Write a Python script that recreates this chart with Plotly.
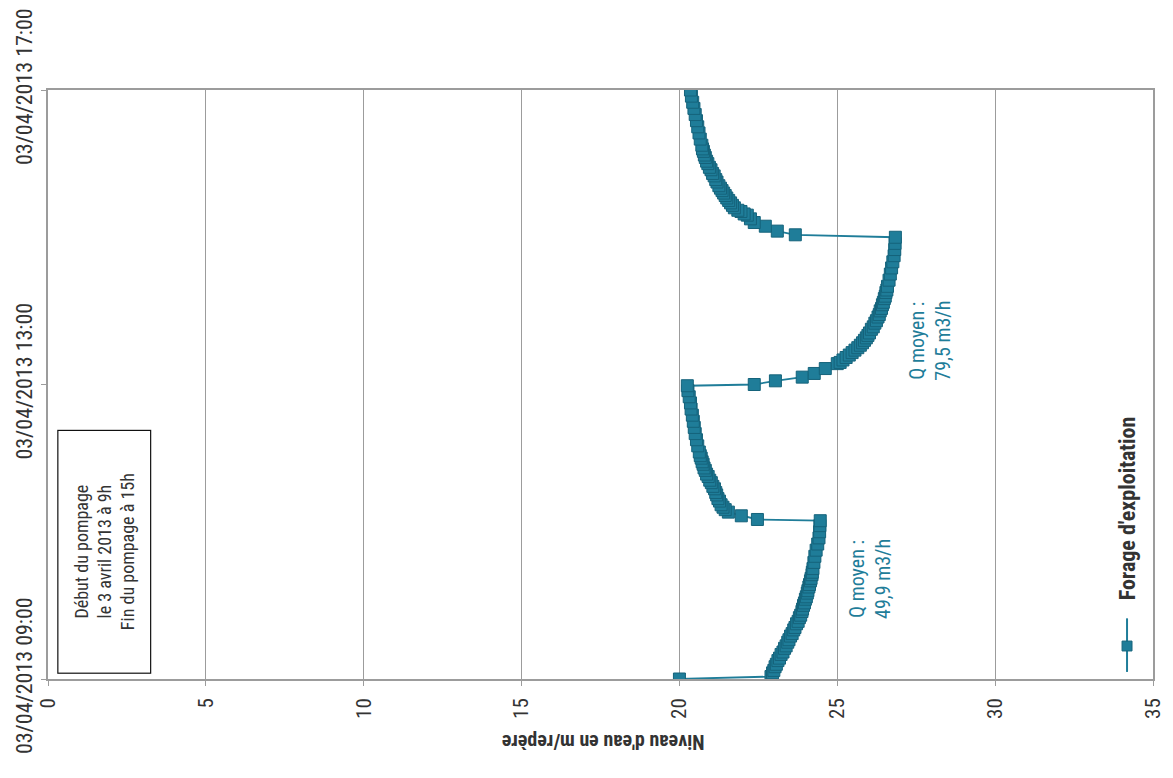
import plotly.graph_objects as go

DATE = "2013-04-03 "

# Time of each reading (HH:MM, 3 April 2013)
times = [
    # pumping phase 1
    "09:00", "09:02", "09:05", "09:07", "09:10", "09:12", "09:15", "09:17", "09:20", "09:22",
    "09:25", "09:27", "09:30", "09:32", "09:35", "09:37", "09:40", "09:42", "09:45", "09:47",
    "09:50", "09:52", "09:55", "09:57", "10:00", "10:02", "10:05", "10:07", "10:10", "10:12",
    "10:15", "10:17", "10:20", "10:22", "10:25", "10:27", "10:30", "10:35", "10:40", "10:45",
    "10:50", "10:55", "11:00", "11:05", "11:09",
    # recovery 1
    "11:10", "11:13", "11:16", "11:18", "11:20", "11:22", "11:25", "11:27", "11:30", "11:32",
    "11:35", "11:37", "11:40", "11:42", "11:45", "11:47", "11:50", "11:52", "11:55", "11:57",
    "12:00", "12:02", "12:05", "12:10", "12:15", "12:20", "12:25", "12:30", "12:35", "12:40",
    "12:45", "12:50", "12:55", "12:59",
    # pumping phase 2
    "13:00", "13:03", "13:06", "13:09", "13:13", "13:17", "13:18", "13:20", "13:22", "13:24",
    "13:26", "13:28", "13:30", "13:32", "13:34", "13:36", "13:38", "13:40", "13:42", "13:45",
    "13:47", "13:50", "13:52", "13:55", "13:57", "14:00", "14:02", "14:05", "14:07", "14:10",
    "14:12", "14:15", "14:17", "14:20", "14:25", "14:30", "14:35", "14:40", "14:45", "14:50",
    "14:55", "15:00",
    # recovery 2
    "15:02", "15:05", "15:09", "15:12", "15:15", "15:18", "15:19", "15:21", "15:22", "15:24",
    "15:26", "15:28", "15:30", "15:32", "15:34", "15:36", "15:38", "15:40", "15:42", "15:45",
    "15:47", "15:50", "15:52", "15:55", "15:57", "16:00", "16:02", "16:05", "16:07", "16:10",
    "16:12", "16:15", "16:20", "16:25", "16:30", "16:35", "16:40", "16:45", "16:50", "16:55",
    "17:00",
]

# Water level (m / repère)
levels = [
    # pumping phase 1
    20.00, 22.90, 22.95, 22.99, 23.03, 23.07, 23.12, 23.17, 23.22, 23.28,
    23.33, 23.38, 23.43, 23.47, 23.52, 23.57, 23.62, 23.66, 23.71, 23.76,
    23.80, 23.84, 23.88, 23.90, 23.93, 23.96, 23.99, 24.02, 24.05, 24.07,
    24.10, 24.12, 24.15, 24.17, 24.20, 24.21, 24.23, 24.26, 24.29, 24.33,
    24.38, 24.42, 24.44, 24.45, 24.46,
    # recovery 1
    22.47, 21.96, 21.55, 21.45, 21.38, 21.32, 21.27, 21.22, 21.18, 21.15,
    21.11, 21.06, 21.01, 20.96, 20.91, 20.86, 20.82, 20.78, 20.75, 20.72,
    20.69, 20.66, 20.63, 20.58, 20.54, 20.50, 20.47, 20.44, 20.41, 20.37,
    20.35, 20.31, 20.27, 20.25,
    # pumping phase 2
    22.37, 23.04, 23.89, 24.27, 24.62, 25.00, 25.09, 25.18, 25.28, 25.38,
    25.47, 25.56, 25.65, 25.73, 25.80, 25.86, 25.92, 25.97, 26.02, 26.08,
    26.14, 26.19, 26.24, 26.29, 26.33, 26.36, 26.40, 26.43, 26.46, 26.49,
    26.52, 26.54, 26.57, 26.59, 26.64, 26.68, 26.72, 26.76, 26.80, 26.82,
    26.83, 26.84,
    # recovery 2
    23.67, 23.10, 22.72, 22.37, 22.25, 22.15, 22.05, 21.95, 21.85, 21.74,
    21.68, 21.62, 21.56, 21.50, 21.45, 21.40, 21.35, 21.30, 21.25, 21.19,
    21.15, 21.10, 21.05, 21.00, 20.95, 20.90, 20.86, 20.82, 20.79, 20.76,
    20.73, 20.71, 20.66, 20.62, 20.58, 20.54, 20.50, 20.46, 20.42, 20.38,
    20.35,
]

time_ticks = ["09:00", "13:00", "17:00"]
time_tick_labels = ["03/04/2013 09:00", "03/04/2013 13:00", "03/04/2013 17:00"]
level_ticks = [0, 5, 10, 15, 20, 25, 30, 35]

series_name = "Forage d'exploitation"
box_text = "Début du pompage<br>le 3 avril 2013 à 9h<br>Fin du pompage à 15h"
q1_text = "Q moyen :<br>49,9 m3/h"
q2_text = "Q moyen :<br>79,5 m3/h"
axis_title = "Niveau d'eau en m/repère"

TEAL = "#1f7d99"
TEAL_DARK = "#15637b"
GRID = "#9c9c9c"
FONT = "Roboto Condensed, DejaVu Sans Condensed, Liberation Sans Narrow, Roboto, sans-serif"

fig = go.Figure()
fig.add_trace(go.Scatter(
    x=levels,
    y=[DATE + t for t in times],
    mode="lines+markers",
    name=series_name,
    line=dict(color=TEAL, width=1.8),
    marker=dict(symbol="square", size=12, color=TEAL, line=dict(color=TEAL_DARK, width=1)),
    showlegend=False,
))

fig.update_layout(
    width=1165, height=770,
    margin=dict(l=40, r=20, t=82, b=99),
    paper_bgcolor="white", plot_bgcolor="white",
    font=dict(family=FONT, color="#333333"),
    xaxis=dict(
        range=[0, 35], tickvals=level_ticks, tickangle=-90, automargin=False,
        showgrid=True, gridcolor=GRID, gridwidth=1,
        showline=True, linecolor=GRID, linewidth=1.5, mirror=True,
        ticks="outside", ticklen=5, tickcolor=GRID,
        tickfont=dict(size=21, family=FONT, color="#333333"),
        ticklabelstandoff=4,
        zeroline=False,
    ),
    yaxis=dict(
        type="date", automargin=False,
        range=[DATE + "09:00", DATE + "17:00"],
        tickvals=[DATE + t for t in time_ticks], ticktext=time_tick_labels,
        tickangle=-90,
        showgrid=False,
        showline=True, linecolor=GRID, linewidth=1.5, mirror=True,
        ticks="outside", ticklen=5, tickcolor=GRID,
        tickfont=dict(size=22, family=FONT, color="#333333"),
        zeroline=False,
    ),
)

annotations = [
    dict(text="<b>" + axis_title + "</b>", textangle=180, xref="paper", yref="paper",
         x=0.502, y=-0.108, showarrow=False,
         font=dict(size=20, family=FONT, color="#333333"),
         xanchor="center", yanchor="middle"),
    dict(text=box_text, textangle=-90, xref="paper", yref="paper",
         x=0.0507, y=0.216, showarrow=False, align="center",
         width=240, height=90, bordercolor="#111111", borderwidth=1.2, bgcolor="white",
         font=dict(size=18, family=FONT, color="#333333"),
         xanchor="center", yanchor="middle"),
    dict(text=q1_text, textangle=-90, xref="paper", yref="paper",
         x=0.744, y=0.17, showarrow=False, align="center",
         font=dict(size=20, family=FONT, color=TEAL),
         xanchor="center", yanchor="middle"),
    dict(text=q2_text, textangle=-90, xref="paper", yref="paper",
         x=0.798, y=0.574, showarrow=False, align="center",
         font=dict(size=20, family=FONT, color=TEAL),
         xanchor="center", yanchor="middle"),
    dict(text="<b>" + series_name + "</b>", textangle=-90, xref="paper", yref="paper",
         x=0.9765, y=0.29, showarrow=False,
         font=dict(size=22, family=FONT, color="#333333"),
         xanchor="center", yanchor="middle"),
]
fig.update_layout(annotations=annotations)

# legend key (line + square), drawn vertically like the rotated legend
fig.add_shape(type="line", xref="paper", yref="paper",
              x0=0.9765, x1=0.9765, y0=0.012, y1=0.103,
              line=dict(color=TEAL, width=2))
fig.add_shape(type="rect", xref="paper", yref="paper",
              x0=0.9765 - 0.0045, x1=0.9765 + 0.0045, y0=0.056 - 0.0084, y1=0.056 + 0.0084,
              line=dict(color=TEAL_DARK, width=1), fillcolor=TEAL)

fig.write_html("out.html")
